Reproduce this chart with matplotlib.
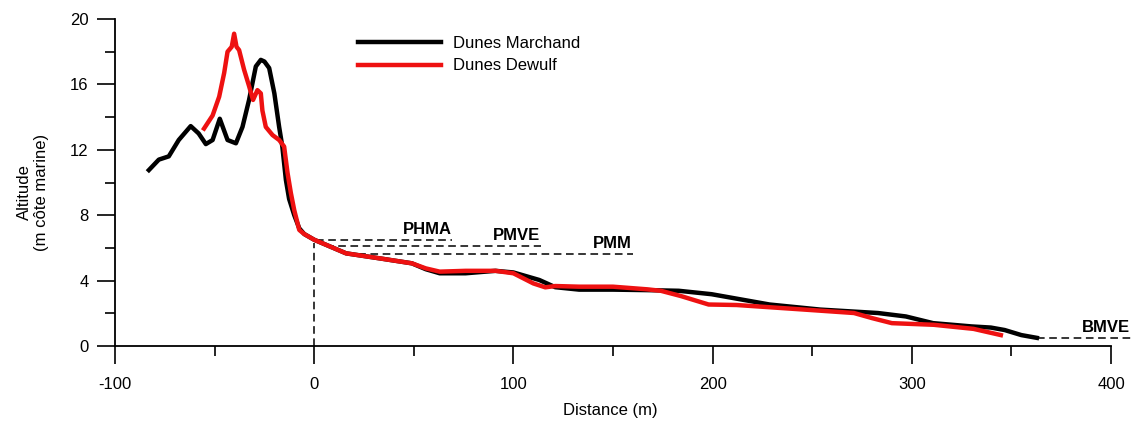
import matplotlib.pyplot as plt
from matplotlib.ticker import MultipleLocator

plt.rcParams['font.family'] = ['Liberation Sans', 'DejaVu Sans']
plt.rcParams['axes.unicode_minus'] = False

# profil Dunes Marchand (distance m, altitude m)
marchand_x = [-83, -78, -73, -68, -62, -58, -54.4, -51, -47.4, -43.5, -39.3, -36, -32.7,
              -29.3, -26.8, -25, -22.6, -20, -17.6, -16, -14.2, -12.6, -10, -7.5, -5, 0,
              16, 33, 49, 56, 63, 76, 91, 100, 113, 121, 133, 150, 167, 183, 199.5,
              228.6, 254, 283, 297, 310.7, 330, 339.7, 346.6, 355, 362.8]
marchand_z = [10.76, 11.4, 11.6, 12.6, 13.45, 13.0, 12.35, 12.6, 13.9, 12.6, 12.4, 13.4, 15.05,
              17.1, 17.5, 17.4, 17.0, 15.45, 13.4, 12.2, 10.15, 9.0, 8.0, 7.2, 6.85, 6.5,
              5.67, 5.36, 5.06, 4.7, 4.45, 4.45, 4.6, 4.5, 4.04, 3.6, 3.45, 3.45, 3.42, 3.38, 3.17,
              2.54, 2.23, 2.02, 1.81, 1.4, 1.2, 1.13, 0.98, 0.67, 0.5]

# profil Dunes Dewulf
dewulf_x = [-55.3, -51, -47.7, -45.2, -43.5, -41.4, -40.2, -39, -37.7, -35.2, -32.7, -30.7,
            -28.5, -26.8, -26, -24.3, -20.9, -17.6, -15.1, -13.4, -11.7, -10, -7.5, -5, 0,
            16, 33, 49, 56, 63, 76, 91, 100, 110, 116, 121, 133, 150, 167, 174, 184, 198,
            212, 246, 271, 280, 290, 311, 331, 344.7]
dewulf_z = [13.3, 14.1, 15.25, 16.7, 18.0, 18.3, 19.1, 18.3, 18.1, 16.9, 15.9, 15.05,
            15.65, 15.45, 14.4, 13.4, 12.9, 12.6, 12.2, 10.6, 9.35, 8.3, 7.1, 6.85, 6.5,
            5.67, 5.36, 5.06, 4.75, 4.55, 4.6, 4.6, 4.45, 3.83, 3.59, 3.67, 3.63, 3.63, 3.47,
            3.38, 3.06, 2.54, 2.51, 2.23, 2.02, 1.71, 1.4, 1.3, 1.05, 0.67]

# niveaux marins
levels = ['PHMA', 'PMVE', 'PMM']
level_z = [6.48, 6.12, 5.6]
level_start = [1, 6, 16]
level_end = [69, 114, 160]
label_x = [57, 101.8, 149.7]
label_z = [7.1, 6.79, 6.28]
bmve_z = 0.5
bmve_x = [362.8, 411]

fig = plt.figure(figsize=(11.33, 4.29), dpi=100)
ax = fig.add_axes([115 / 1133, 1 - 362.4 / 429, (1111 - 115) / 1133, (362.4 - 19) / 429])

dash = (0, (5, 3))
for z, xs, xe in zip(level_z, level_start, level_end):
    ax.plot([xs, xe], [z, z], color='black', lw=1.1, ls=dash, zorder=1)
ax.plot([0, 0], [0, 6.3], color='black', lw=1.1, ls=dash, zorder=1)
ax.plot(bmve_x, [bmve_z, bmve_z], color='black', lw=1.1, ls=dash, zorder=1, clip_on=False)

ax.plot(marchand_x, marchand_z, color='black', lw=3.2, solid_joinstyle='round',
        label='Dunes Marchand', zorder=2)
ax.plot(dewulf_x, dewulf_z, color='#ee1111', lw=3.2, solid_joinstyle='round',
        label='Dunes Dewulf', zorder=3)

for name, x, z in zip(levels, label_x, label_z):
    ax.text(x, z, name, fontsize=12, fontweight='bold', ha='center', va='center')
ax.text(397.7, 1.13, 'BMVE', fontsize=12, fontweight='bold', ha='center', va='center',
        clip_on=False)

ax.set_xlim(-100, 400)
ax.set_ylim(-1.0, 20)
ax.spines['top'].set_visible(False)
ax.spines['right'].set_visible(False)
ax.spines['bottom'].set_position(('data', 0))
ax.spines['left'].set_bounds(0, 20)
for s in ['left', 'bottom']:
    ax.spines[s].set_linewidth(1.3)

ax.xaxis.set_major_locator(MultipleLocator(100))
ax.xaxis.set_minor_locator(MultipleLocator(50))
ax.yaxis.set_major_locator(MultipleLocator(4))
ax.yaxis.set_minor_locator(MultipleLocator(2))
ax.tick_params(which='major', length=13, width=1.2, labelsize=12)
ax.tick_params(axis='x', which='major', pad=9)
ax.tick_params(axis='y', which='major', pad=6)
ax.tick_params(which='minor', length=7, width=1.2)
ax.set_yticks([0, 4, 8, 12, 16, 20])

fig.text(33 / 1133, 1 - 192 / 429, 'Altitude\n(m côte marine)', rotation=90,
         ha='center', va='center', multialignment='center', fontsize=12)
fig.text(610 / 1133, 1 - 410 / 429, 'Distance (m)', ha='center', va='center', fontsize=12)

ax.legend(loc='upper left', bbox_to_anchor=(358 / 1133, 1 - 36 / 429),
          bbox_transform=fig.transFigure, frameon=False, fontsize=12,
          handlelength=5, handletextpad=0.7, labelspacing=0.45,
          borderaxespad=0, borderpad=0)

plt.savefig('out.png', dpi=100)
